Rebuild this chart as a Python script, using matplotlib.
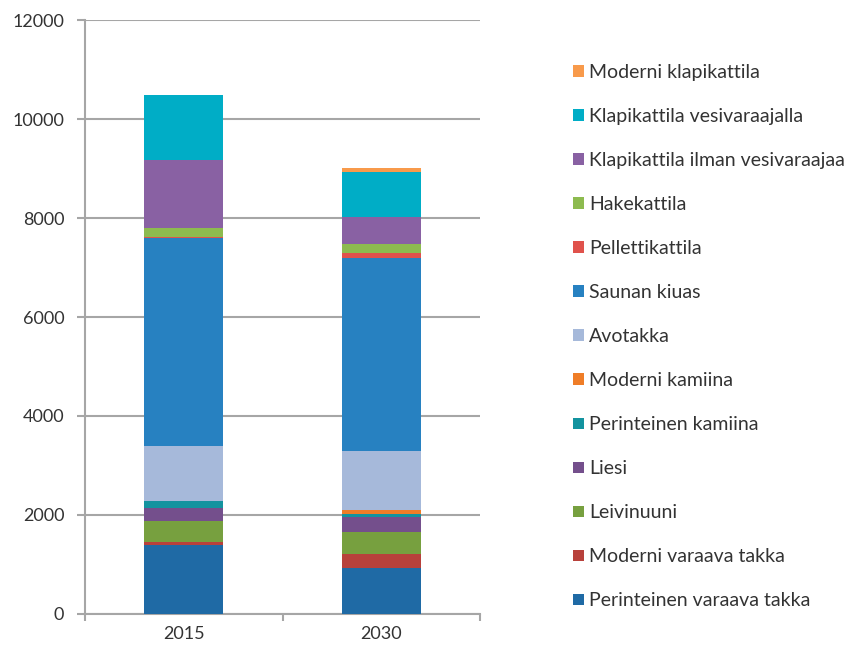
import matplotlib.pyplot as plt
from matplotlib.patches import Patch

plt.rcParams['font.family'] = ['Lato', 'DejaVu Sans']

years = ["2015", "2030"]

# series, bottom to top of the stack
labels = [
    "Perinteinen varaava takka",
    "Moderni varaava takka",
    "Leivinuuni",
    "Liesi",
    "Perinteinen kamiina",
    "Moderni kamiina",
    "Avotakka",
    "Saunan kiuas",
    "Pellettikattila",
    "Hakekattila",
    "Klapikattila ilman vesivaraajaa",
    "Klapikattila vesivaraajalla",
    "Moderni klapikattila",
]

perinteinen_varaava = [1390, 930]
moderni_varaava = [60, 280]
leivinuuni = [420, 455]
liesi = [270, 300]
perinteinen_kamiina = [150, 50]
moderni_kamiina = [0, 85]
avotakka = [1110, 1200]
saunan_kiuas = [4200, 3900]
pellettikattila = [20, 100]
hakekattila = [170, 175]
klapi_ilman = [1390, 545]
klapi_vesi = [1310, 910]
moderni_klapi = [0, 75]

series = [perinteinen_varaava, moderni_varaava, leivinuuni, liesi,
          perinteinen_kamiina, moderni_kamiina, avotakka, saunan_kiuas,
          pellettikattila, hakekattila, klapi_ilman, klapi_vesi, moderni_klapi]

colors = ["#1f6aa5", "#b8413b", "#77a03f", "#744f8c", "#13939f", "#ef7d27",
          "#a6b9da", "#2781c1", "#e0524c", "#8dbb4f", "#8961a3", "#00adc6",
          "#f89a4b"]

fig = plt.figure(figsize=(8.53, 6.5), dpi=100)
ax = fig.add_axes([0.0997, 0.0554, 0.4630, 0.9138])

x = range(len(years))
bottom = [0, 0]
for vals, c, lab in zip(series, colors, labels):
    ax.bar(x, vals, width=0.4, bottom=bottom, color=c, label=lab, zorder=3)
    bottom = [b + v for b, v in zip(bottom, vals)]

ax.set_xlim(-0.5, 1.5)
ax.set_ylim(0, 12000)
ax.set_yticks(range(0, 12001, 2000))
ax.yaxis.grid(True, color="#a6a6a6", linewidth=1.5, zorder=0)

ax.set_xticks(list(x))
ax.set_xticklabels(years)
ax.set_xticks([-0.5, 0.5, 1.5], minor=True)
ax.tick_params(axis='x', which='major', length=0, pad=9, labelsize=13, colors="#333333")
ax.tick_params(axis='x', which='minor', length=5, width=1.5, color="#a6a6a6")
ax.tick_params(axis='y', length=6, width=1.5, color="#a6a6a6", labelsize=13, labelcolor="#333333", pad=9)

for s in ['top', 'right']:
    ax.spines[s].set_visible(False)
for s in ['left', 'bottom']:
    ax.spines[s].set_color("#a6a6a6")
    ax.spines[s].set_linewidth(1.5)

handles = [Patch(facecolor=c, label=l) for c, l in zip(colors, labels)][::-1]
fig.legend(handles=handles, loc='upper left', bbox_to_anchor=(0.672, 0.9015),
           frameon=False, fontsize=14, handlelength=0.55, handleheight=0.55,
           handletextpad=0.25, labelspacing=1.39, borderpad=0, borderaxespad=0,
           labelcolor="#333333")

fig.savefig("out.png", dpi=100)
